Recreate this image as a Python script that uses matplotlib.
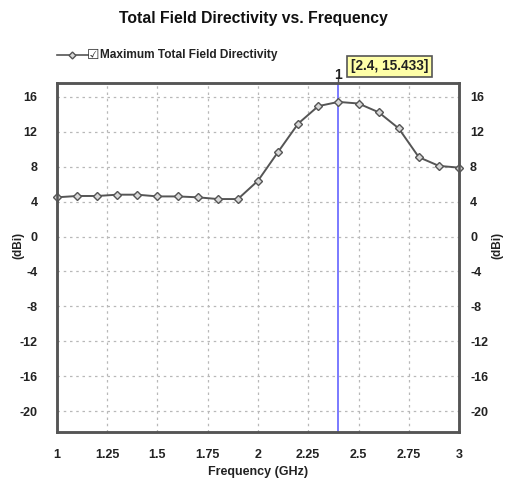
import matplotlib
matplotlib.use("Agg")
import matplotlib.pyplot as plt

freq = [1.0, 1.1, 1.2, 1.3, 1.4, 1.5, 1.6, 1.7, 1.8, 1.9, 2.0,
        2.1, 2.2, 2.3, 2.4, 2.5, 2.6, 2.7, 2.8, 2.9, 3.0]
directivity = [4.5, 4.65, 4.65, 4.8, 4.8, 4.6, 4.6, 4.5, 4.3, 4.3, 6.4,
               9.7, 12.95, 14.95, 15.433, 15.25, 14.25, 12.4, 9.1, 8.1, 7.9]
xticks = [1, 1.25, 1.5, 1.75, 2, 2.25, 2.5, 2.75, 3]
xticklabels = ["1", "1.25", "1.5", "1.75", "2", "2.25", "2.5", "2.75", "3"]
yticks = [16, 12, 8, 4, 0, -4, -8, -12, -16, -20]
marker_x = 2.4
marker_y = 15.433

plt.rcParams['font.family'] = ['Liberation Sans', 'DejaVu Sans']
plt.rcParams['axes.unicode_minus'] = False

fig = plt.figure(figsize=(5.06, 4.82), dpi=100)
ax = fig.add_axes([57/506, 1-432/482, (459-57)/506, (432-83)/482])

ax.plot(freq, directivity, color='#555555', lw=1.4, marker='D', ms=4,
        mfc='#d8d8d8', mec='#555555', mew=1.0, zorder=3, clip_on=False)
ax.axvline(marker_x, color='#6f6fff', lw=1.3, zorder=2)

ax.set_xlim(1, 3)
ax.set_ylim(-22.4, 17.6)
ax.set_xticks(xticks)
ax.set_xticklabels(xticklabels)
ax.set_yticks(yticks)
ax.grid(True, color='#b8b8b8', linestyle=(0, (2, 3)), lw=0.9)
ax.tick_params(length=0, labelsize=9, colors='#222222')
ax.tick_params(axis='x', pad=12)
ax.tick_params(axis='y', pad=14)

axr = ax.twinx()
axr.set_ylim(-22.4, 17.6)
axr.set_yticks(yticks)
axr.tick_params(length=0, labelsize=9, colors='#222222', pad=8)

for a in (ax, axr):
    for lab in a.get_yticklabels() + a.get_xticklabels():
        lab.set_fontweight('bold')
    for s in a.spines.values():
        s.set_color('#555555')
        s.set_linewidth(1.8)

ax.set_xlabel("Frequency (GHz)", fontsize=9, fontweight='bold', labelpad=4, color='#222222')
fig.text(18/506, 1-245/482, "(dBi)", rotation=90, ha='center', va='center',
         fontsize=8.5, fontweight='bold', color='#222222')
fig.text(497/506, 1-245/482, "(dBi)", rotation=90, ha='center', va='center',
         fontsize=8.5, fontweight='bold', color='#222222')

fig.text(253/506, 1-18/482, "Total Field Directivity vs. Frequency", ha='center',
         va='center', fontsize=11.3, fontweight='bold', color='#111111')

# legend replica
fig.lines.append(plt.Line2D([57/506, 88/506], [1-55/482, 1-55/482], transform=fig.transFigure,
                            color='#555555', lw=1.2))
fig.lines.append(plt.Line2D([72/506], [1-55/482], transform=fig.transFigure,
                            color='#555555', marker='D', ms=3.5, mfc='#d8d8d8', mec='#555555', lw=0))
fig.text(93/506, 1-55/482, "\u2611", ha='center', va='center', fontsize=10,
         family='DejaVu Sans', color='#333333')
fig.text(100/506, 1-55/482, "Maximum Total Field Directivity", ha='left', va='center',
         fontsize=8.6, fontweight='bold', color='#222222')

# marker label
ax.annotate("1", xy=(marker_x, 17.6), xytext=(0, 1), textcoords='offset points',
            ha='center', va='bottom', fontsize=10, fontweight='bold', color='#222222',
            annotation_clip=False)
ax.plot([marker_x, marker_x], [17.6, 18.3], color='#555555', lw=1, clip_on=False)
ax.annotate(f"[{marker_x}, {marker_y}]", xy=(marker_x, 17.6), xytext=(9, 12),
            textcoords='offset points', ha='left', va='center', fontsize=9.8,
            fontweight='bold', color='#222222', annotation_clip=False,
            bbox=dict(boxstyle='square,pad=0.25', fc='#ffffa8', ec='#555555', lw=1.2))

fig.savefig("out.png", dpi=100, facecolor='white')
